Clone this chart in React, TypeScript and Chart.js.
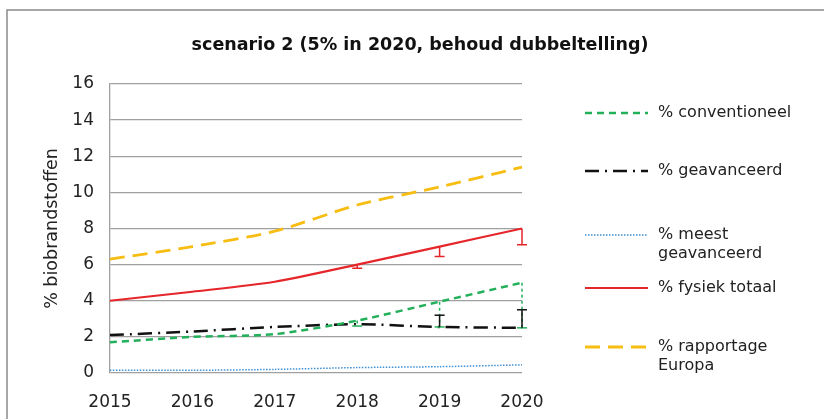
import React, { useEffect, useRef } from "react";
import { Chart, registerables } from "chart.js";
Chart.register(...registerables);

const years = ["2015", "2016", "2017", "2018", "2019", "2020"];
const conventioneel = [1.7, 2.0, 2.15, 2.9, 3.95, 5.0];
const geavanceerd = [2.1, 2.3, 2.55, 2.7, 2.55, 2.5];
const meestGeavanceerd = [0.15, 0.15, 0.2, 0.3, 0.35, 0.45];
const fysiekTotaal = [4.0, 4.5, 5.05, 6.0, 7.0, 8.0];
const rapportageEuropa = [6.3, 7.0, 7.85, 9.3, 10.3, 11.4];
// error-bar end values (null = none)
const conventioneelErr = [null, null, null, 2.6, 2.55, 2.5];
const geavanceerdErr = [null, null, null, null, 3.2, 3.5];
const fysiekErr = [null, null, null, 5.8, 6.45, 7.1];

const titleText = "scenario 2 (5% in 2020, behoud dubbeltelling)";
const yTitle = "% biobrandstoffen";

const GREEN = "#22b05a";
const BLACK = "#111111";
const BLUE = "#3d8fd6";
const RED = "#e5262b";
const YELLOW = "#f7bd12";

const legendItems: { text: string[]; color: string; dash: number[]; width: number }[] = [
  { text: ["% conventioneel"], color: GREEN, dash: [7, 5], width: 2.5 },
  { text: ["% geavanceerd"], color: BLACK, dash: [14, 6, 2, 6], width: 2.5 },
  { text: ["% meest", "geavanceerd"], color: BLUE, dash: [1.5, 1.5], width: 1.5 },
  { text: ["% fysiek totaal"], color: RED, dash: [], width: 2.2 },
  { text: ["% rapportage", "Europa"], color: YELLOW, dash: [15, 8], width: 2.8 },
];
const legendY = [113, 171, 235, 288, 347];

export default function App() {
  const ref = useRef<HTMLCanvasElement>(null);
  useEffect(() => {
    document.body.style.margin = "0";
    const errSets: (number | null)[][] = [conventioneelErr, geavanceerdErr, [], fysiekErr, []];
    const plugin = {
      id: "extras",
      afterDatasetsDraw(chart: any) {
        const ctx = chart.ctx;
        const ys = chart.scales.y;
        errSets.forEach((errs, di) => {
          const meta = chart.getDatasetMeta(di);
          const ds = chart.data.datasets[di];
          errs.forEach((e, i) => {
            if (e == null) return;
            const pt = meta.data[i];
            const y2 = ys.getPixelForValue(e);
            ctx.save();
            ctx.strokeStyle = ds.borderColor;
            ctx.lineWidth = 1.5;
            ctx.setLineDash(di === 0 ? [3, 3] : []);
            ctx.beginPath();
            ctx.moveTo(pt.x, pt.y);
            ctx.lineTo(pt.x, y2);
            ctx.stroke();
            ctx.setLineDash([]);
            ctx.beginPath();
            ctx.moveTo(pt.x - 5, y2);
            ctx.lineTo(pt.x + 5, y2);
            ctx.stroke();
            ctx.restore();
          });
        });
      },
      afterDraw(chart: any) {
        const ctx = chart.ctx;
        ctx.save();
        ctx.strokeStyle = "#8a8a8a";
        ctx.lineWidth = 1.5;
        ctx.beginPath();
        ctx.moveTo(7, 430);
        ctx.lineTo(7, 10);
        ctx.lineTo(830, 10);
        ctx.stroke();
        ctx.fillStyle = "#111";
        ctx.font = 'bold 17.5px "DejaVu Sans", sans-serif';
        ctx.textAlign = "center";
        ctx.textBaseline = "middle";
        ctx.fillText(titleText, 420, 45);
        ctx.font = '16px "DejaVu Sans", sans-serif';
        ctx.textAlign = "left";
        legendItems.forEach((it, i) => {
          const y = legendY[i];
          ctx.strokeStyle = it.color;
          ctx.lineWidth = it.width;
          ctx.setLineDash(it.dash);
          ctx.beginPath();
          ctx.moveTo(585, y);
          ctx.lineTo(648, y);
          ctx.stroke();
          ctx.setLineDash([]);
          ctx.fillStyle = "#222";
          it.text.forEach((t, k) => ctx.fillText(t, 658, y + k * 19));
        });
        ctx.restore();
      },
    };
    const mk = (label: string, data: number[], color: string, dash: number[], width: number) => ({
      label,
      data,
      borderColor: color,
      backgroundColor: color,
      borderDash: dash,
      borderWidth: width,
      pointRadius: 0,
      tension: 0.25,
      fill: false,
    });
    const chart = new Chart(ref.current!, {
      type: "line",
      data: {
        labels: years,
        datasets: [
          mk("% conventioneel", conventioneel, GREEN, [7, 5], 2.5),
          mk("% geavanceerd", geavanceerd, BLACK, [14, 6, 2, 6], 2.5),
          mk("% meest geavanceerd", meestGeavanceerd, BLUE, [1.5, 1.5], 1.5),
          mk("% fysiek totaal", fysiekTotaal, RED, [], 2.2),
          mk("% rapportage Europa", rapportageEuropa, YELLOW, [15, 8], 2.8),
        ],
      },
      options: {
        animation: false,
        responsive: false,
        maintainAspectRatio: false,
        layout: { padding: { top: 84, right: 302, left: 0, bottom: 0 } },
        plugins: { legend: { display: false }, title: { display: false }, tooltip: { enabled: false } },
        scales: {
          x: {
            offset: false,
            grid: { display: false, drawTicks: false },
            border: { display: false },
            ticks: { color: "#222", font: { family: "DejaVu Sans", size: 17 }, padding: 19, maxRotation: 0 },
            afterFit: (s: any) => { s.height = 46; },
          },
          y: {
            min: 0,
            max: 16,
            ticks: { stepSize: 2, color: "#222", font: { family: "DejaVu Sans", size: 17 }, padding: 16 },
            grid: { color: "#a0a0a0", lineWidth: 1.3, drawTicks: false },
            border: { display: true, color: "#a0a0a0", width: 1.3 },
            title: { display: true, text: yTitle, color: "#222", font: { family: "DejaVu Sans", size: 17.5 }, padding: { top: 42, bottom: 0 } },
            afterFit: (s: any) => { s.width = 110; },
          },
        },
      },
      plugins: [plugin],
    });
    return () => chart.destroy();
  }, []);
  return (
    <div style={{ position: "absolute", left: 0, top: 0, width: 824, height: 419, background: "#fff" }}>
      <canvas ref={ref} width={824} height={419} style={{ width: 824, height: 419 }} />
    </div>
  );
}
